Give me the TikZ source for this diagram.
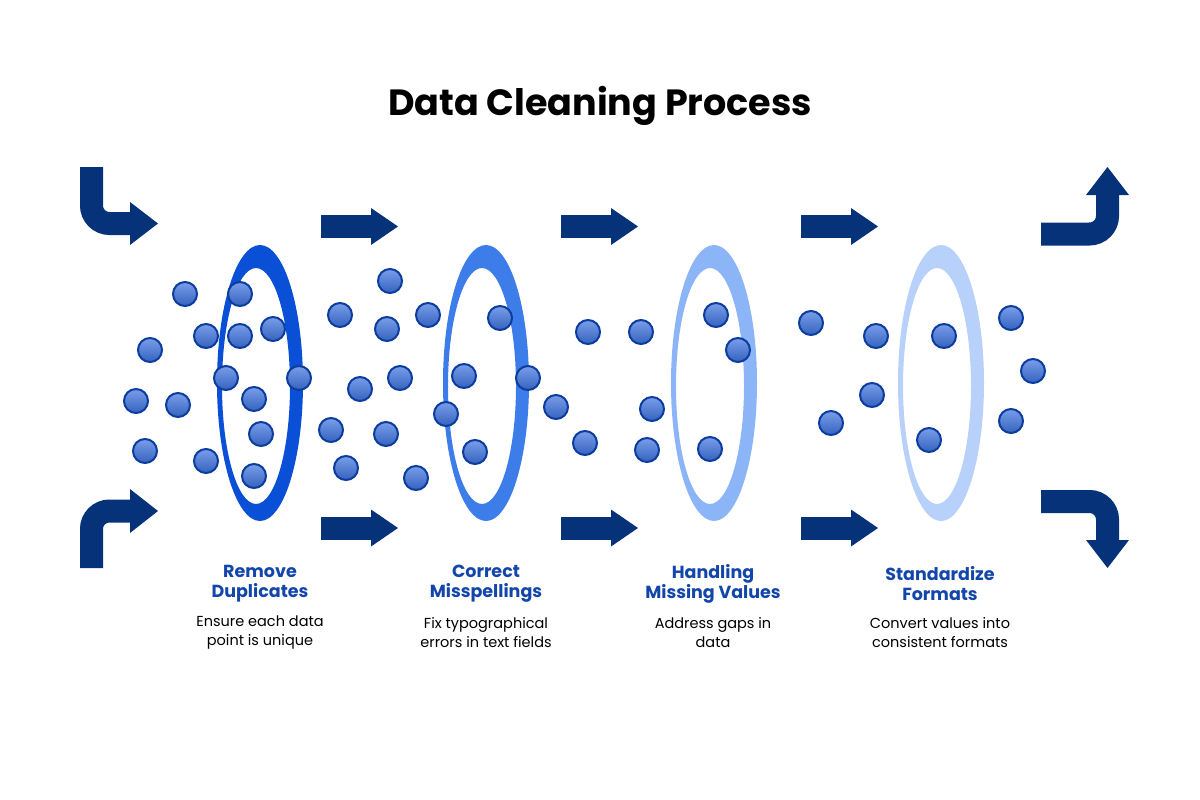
\documentclass[tikz,border=0pt]{standalone}
\usepackage{fontspec}
\setmainfont{Poppins}
\usetikzlibrary{positioning}
\definecolor{navy}{HTML}{053278}
\definecolor{headblue}{HTML}{1346AA}
\definecolor{dotfill}{HTML}{3F74E0}
\definecolor{dotline}{HTML}{0B3C9E}
\definecolor{ringA}{HTML}{0A50D6}
\definecolor{ringB}{HTML}{3D7DE9}
\definecolor{ringC}{HTML}{8CB5F7}
\definecolor{ringD}{HTML}{B8D1FA}
\tikzset{
  pipe/.style={navy,line width=23pt,rounded corners=18pt},
  head/.style={fill=navy,draw=none},
  dot/.style={circle,draw=dotline,line width=2pt,top color=dotfill!70!white,bottom color=dotfill!85!black,minimum size=24pt,inner sep=0pt},
  stage/.style={font=\bfseries\fontsize{17.5}{20}\selectfont,text=headblue,align=center},
  note/.style={font=\fontsize{14.5}{19}\selectfont,align=center}
}
\newcommand\ring[2]{% center x, colour
  \fill[#2,even odd rule] (#1,383) ellipse [x radius=43,y radius=138]
    (#1-4,386) ellipse [x radius=34,y radius=118];}
\newcommand\flow[2]{% start x, centre y
  \fill[navy] (#1,#2-11.5) rectangle (#1+51,#2+11.5);
  \fill[head] (#1+50,#2-18.5) -- (#1+77,#2) -- (#1+50,#2+18.5) -- cycle;}
\begin{document}
\begin{tikzpicture}[x=1pt,y=-1pt]
  \useasboundingbox (0,0) rectangle (1200,800);
  \node (title) at (600,106) {\bfseries\fontsize{36.5}{40}\selectfont Data Cleaning Process};
  % entry and exit bends
  \draw[pipe] (91.5,167) |- (132,223.5);
  \fill[head] (130,202) -- (158,223.5) -- (130,245) -- cycle;
  \draw[pipe] (91.5,568) |- (132,511);
  \fill[head] (130,489) -- (158,511) -- (130,533) -- cycle;
  \draw[pipe] (1041,234) -| (1107.5,193);
  \fill[head] (1086,195) -- (1107.5,167) -- (1129,195) -- cycle;
  \draw[pipe] (1041,501.5) -| (1107.5,542);
  \fill[head] (1086,540) -- (1107.5,568) -- (1129,540) -- cycle;
  % straight arrows
  \foreach \x in {321,561,801}{\flow{\x}{226.5}\flow{\x}{528}}
  % rings
  \ring{260}{ringA}\ring{486}{ringB}\ring{714}{ringC}\ring{941}{ringD}
  % data points
  \foreach \x/\y [count=\i] in {185/294,240/294,206/336,240/336,273/329,150/350,226/378,299/378,254/399,136/401,178/405,261/434,145/451,206/461,254/476,
    390/281,340/315,387/329,428/315,500/318,360/389,400/378,464/376,528/378,446/414,331/430,386/434,556/407,346/468,416/478,475/452,
    588/332,641/332,716/315,738/350,652/409,585/443,647/450,710/449,
    811/323,876/336,944/336,1011/318,1033/371,872/395,831/423,929/440,1011/421}
    \node[dot] (p\i) at (\x,\y) {};
  % stage labels
  \node[stage] (s1) at (260,584) {Remove\\Duplicates};
  \node[stage] (s2) at (486,584) {Correct\\Misspellings};
  \node[stage] (s3) at (713,584) {Handling\\Missing Values};
  \node[stage] (s4) at (940,584) {Standardize\\Formats};
  \node[note] (n1) at (260,633) {Ensure each data\\point is unique};
  \node[note] (n2) at (486,633) {Fix typographical\\errors in text fields};
  \node[note] (n3) at (713,633) {Address gaps in\\data};
  \node[note] (n4) at (940,633) {Convert values into\\consistent formats};
\end{tikzpicture}
\end{document}
